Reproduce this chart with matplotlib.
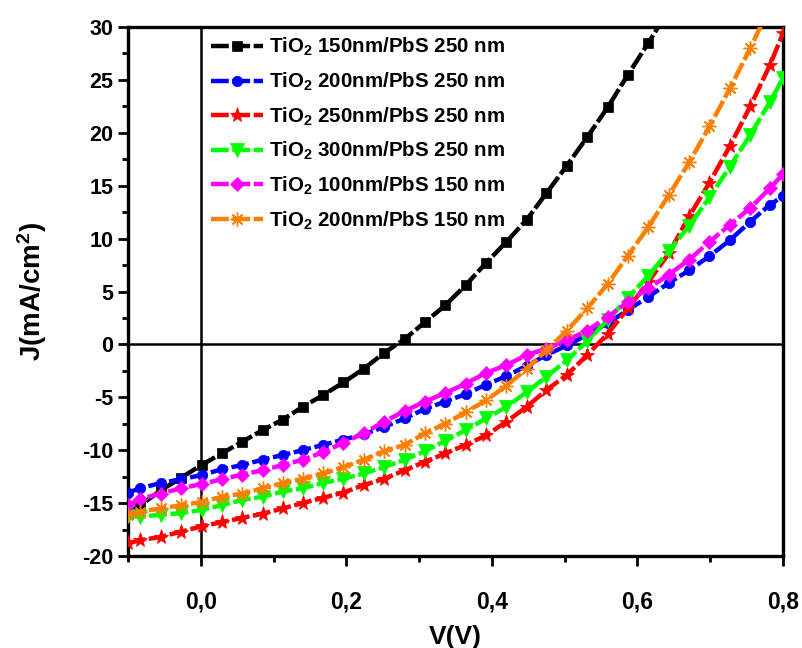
import matplotlib
matplotlib.use("Agg")
import matplotlib.pyplot as plt
from matplotlib.ticker import MultipleLocator, FuncFormatter

plt.rcParams['font.family'] = ['Liberation Sans', 'DejaVu Sans']
plt.rcParams['font.weight'] = 'bold'
plt.rcParams['mathtext.fontset'] = 'custom'
plt.rcParams['mathtext.rm'] = 'Liberation Sans:bold'
plt.rcParams['mathtext.default'] = 'rm'

V = [-0.100, -0.083, -0.055, -0.027, 0.001, 0.029, 0.057, 0.085, 0.113, 0.140,
     0.168, 0.196, 0.224, 0.252, 0.280, 0.308, 0.336, 0.364, 0.392, 0.420,
     0.448, 0.475, 0.503, 0.531, 0.559, 0.587, 0.615, 0.643, 0.671, 0.699,
     0.727, 0.755, 0.782, 0.800]

J_150_250 = [-15.9, -15.2, -13.8, -12.6, -11.4, -10.3, -9.2, -8.1, -7.1, -5.9,
             -4.8, -3.6, -2.3, -0.8, 0.5, 2.1, 3.7, 5.6, 7.7, 9.7,
             11.8, 14.3, 16.9, 19.6, 22.4, 25.5, 28.5, 31.6]
J_200_250 = [-14.0, -13.6, -13.1, -12.75, -12.35, -11.8, -11.4, -10.9, -10.45, -10.0,
             -9.5, -9.0, -8.5, -7.8, -7.0, -6.1, -5.4, -4.7, -3.8, -3.0,
             -2.0, -1.0, -0.1, 0.9, 2.0, 3.25, 4.5, 5.8, 7.0, 8.35,
             9.85, 11.6, 13.2, 14.0]
J_250_250 = [-18.8, -18.5, -18.2, -17.7, -17.2, -16.8, -16.4, -16.0, -15.5, -15.0,
             -14.5, -14.0, -13.3, -12.7, -11.9, -11.1, -10.3, -9.5, -8.6, -7.3,
             -5.9, -4.3, -2.9, -1.0, 1.0, 3.4, 5.9, 8.6, 12.1, 15.3,
             18.75, 22.5, 26.4, 29.4]
J_300_250 = [-16.2, -16.3, -16.1, -15.95, -15.65, -15.2, -14.7, -14.4, -13.9, -13.6,
             -13.1, -12.7, -12.2, -11.6, -10.9, -10.1, -9.1, -8.1, -7.0, -5.9,
             -4.5, -3.05, -1.5, 0.3, 2.3, 4.4, 6.5, 8.8, 11.2, 13.9,
             16.8, 19.8, 22.9, 25.2]
J_100_150 = [-15.2, -14.6, -14.1, -13.6, -13.2, -12.75, -12.3, -11.9, -11.4, -10.9,
             -10.2, -9.3, -8.4, -7.3, -6.3, -5.4, -4.6, -3.7, -2.7, -1.95,
             -1.0, -0.4, 0.4, 1.3, 2.6, 4.0, 5.3, 6.6, 8.0, 9.7,
             11.3, 12.9, 14.75, 16.1]
J_200_150 = [-16.1, -15.8, -15.5, -15.2, -14.9, -14.4, -14.1, -13.6, -13.1, -12.7,
             -12.2, -11.6, -10.9, -10.1, -9.5, -8.4, -7.5, -6.4, -5.3, -3.9,
             -2.3, -0.55, 1.3, 3.4, 5.7, 8.4, 11.1, 14.1, 17.2, 20.6,
             24.2, 28.0, 31.9]

labels = [r'TiO$_2$ 150nm/PbS 250 nm', r'TiO$_2$ 200nm/PbS 250 nm',
          r'TiO$_2$ 250nm/PbS 250 nm', r'TiO$_2$ 300nm/PbS 250 nm',
          r'TiO$_2$ 100nm/PbS 150 nm', r'TiO$_2$ 200nm/PbS 150 nm']
series = [J_150_250, J_200_250, J_250_250, J_300_250, J_100_150, J_200_150]
colors = ['#000000', '#0000FF', '#FF0000', '#00FF00', '#FF00FF', '#FF8000']
markers = ['s', 'o', '*', 'v', 'D', (8, 2, 0)]
msizes = [7, 7.5, 11, 9.5, 7.5, 10]

fig = plt.figure(figsize=(8.03, 6.48), dpi=100)
ax = fig.add_axes([0.1594, 0.142, 0.8157, 0.8163])

ax.axhline(0, color='black', lw=1.8, zorder=1)
ax.axvline(0, color='black', lw=1.8, zorder=1)

for J, c, m, ms, lab in zip(series, colors, markers, msizes, labels):
    mew = 1.0 if isinstance(m, tuple) else 0.5
    ax.plot(V[:len(J)], J, color=c, lw=3.2, ls=(0, (4.0, 0.8)),
            marker=m, ms=ms, mfc=c, mec=c, mew=mew, label=lab, zorder=3)

ax.set_xlim(-0.1, 0.8)
ax.set_ylim(-20, 30)
ax.xaxis.set_major_locator(MultipleLocator(0.2))
ax.xaxis.set_minor_locator(MultipleLocator(0.1))
ax.yaxis.set_major_locator(MultipleLocator(5))
ax.yaxis.set_minor_locator(MultipleLocator(2.5))
ax.xaxis.set_major_formatter(FuncFormatter(lambda x, p: ('%.1f' % x).replace('.', ',')))
ax.yaxis.set_major_formatter(FuncFormatter(lambda y, p: '%d' % round(y)))

for s in ax.spines.values():
    s.set_linewidth(2.4)
ax.tick_params(which='major', direction='out', length=7, width=2.0, labelsize=15.5)
ax.tick_params(which='minor', direction='out', length=4, width=2.0)
ax.tick_params(axis='x', which='major', labelsize=16.5, pad=18)
for t in ax.get_xticklabels() + ax.get_yticklabels():
    t.set_fontweight('bold')

ax.set_xlabel('V(V)', fontsize=19, fontweight='bold', labelpad=8)
ax.set_ylabel(r'J(mA/cm$^2$)', fontsize=20, fontweight='bold', labelpad=24)

leg = ax.legend(loc='upper left', bbox_to_anchor=(0.105, 1.01), frameon=False,
                fontsize=14.8, handlelength=2.5, handletextpad=0.3,
                labelspacing=0.6, borderaxespad=0.3)
for t in leg.get_texts():
    t.set_fontweight('bold')

fig.savefig('out.png', dpi=100)
